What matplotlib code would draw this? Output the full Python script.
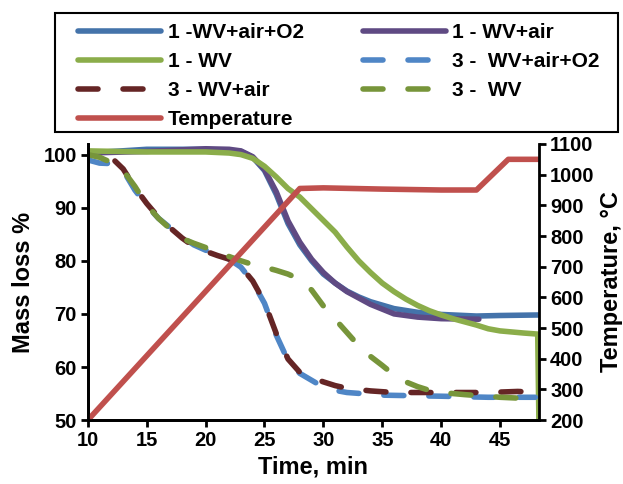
import matplotlib.pyplot as plt
from matplotlib.patches import Rectangle
import numpy as np

plt.rcParams['font.family'] = ['Liberation Sans', 'DejaVu Sans']
plt.rcParams['font.weight'] = 'bold'

# --- data ---
t_b1 = [10, 15, 20, 23, 24, 25, 26, 27, 28, 29, 30, 31, 32, 33, 34, 36, 38, 40, 43, 45, 48.3]
m_b1 = [100.3, 101.0, 101.0, 100.6, 99.5, 97.0, 92.5, 87.0, 83.0, 80.0, 77.5, 75.8, 74.3, 73.2, 72.3,
        71.0, 70.3, 69.9, 69.6, 69.7, 69.8]

t_p1 = [10, 15, 20, 22, 23, 24, 25, 26, 27, 28, 29, 30, 31, 32, 33, 34, 36, 38, 40, 43.2]
m_p1 = [100.3, 100.6, 101.1, 101.0, 100.7, 99.6, 97.2, 93.0, 87.5, 83.5, 80.3, 77.8, 75.8, 74.2, 73.0,
        71.8, 70.0, 69.4, 69.1, 69.0]

t_g1 = [10, 15, 20, 22, 23, 24, 25, 26, 27, 28, 29, 30, 31, 32, 33, 34, 35, 36, 37, 38, 39, 40,
        41, 42, 43, 44, 45, 46, 47, 48.2, 48.3]
m_g1 = [100.7, 100.5, 100.5, 100.3, 100.0, 99.3, 97.8, 95.8, 93.6, 92.0, 89.8, 87.6, 85.4, 82.6, 80.0,
        77.8, 75.8, 74.2, 72.8, 71.6, 70.6, 69.8, 69.1, 68.5, 67.9, 67.2, 66.8, 66.6, 66.4, 66.2, 50.0]

t_b3 = [10, 11, 12, 13, 14, 15, 16, 17, 18, 19, 20, 21, 22, 23, 24, 25, 26, 27, 28, 29, 30, 31, 32,
        35, 40, 44, 48]
m_b3 = [99.0, 98.4, 98.3, 97.0, 93.3, 90.4, 88.0, 86.2, 84.5, 83.0, 82.0, 81.2, 80.3, 78.8, 76.0,
        72.0, 66.0, 61.2, 58.8, 57.5, 56.2, 55.6, 55.2, 54.7, 54.5, 54.3, 54.3]

t_r3 = [12.3, 13, 14, 15, 16, 17, 18, 19, 20, 21, 22, 23, 24, 25, 26, 27, 28, 29, 30, 31, 32, 34,
        36, 40, 44, 46.5, 47.6]
m_r3 = [98.8, 97.3, 93.8, 90.8, 88.2, 86.2, 84.3, 82.7, 81.8, 81.0, 80.3, 78.9, 76.2, 72.2, 66.3,
        61.5, 59.0, 58.0, 57.2, 56.5, 56.0, 55.5, 55.2, 55.2, 55.2, 55.4, 55.3]

t_g3 = [10, 11, 12, 13, 14, 15, 16, 17, 18, 19, 20, 21, 22, 23, 24, 25, 26, 27, 28, 29, 30, 31, 32,
        33, 34, 35, 36, 37, 38, 39, 40, 42, 45, 48]
m_g3 = [100.0, 99.5, 98.5, 97.0, 94.0, 90.5, 88.0, 86.0, 84.2, 83.3, 82.5, 81.6, 80.8, 80.0, 79.3,
        78.8, 78.2, 77.5, 76.5, 74.5, 71.5, 69.0, 66.5, 64.0, 62.0, 60.3, 58.5, 57.2, 56.3, 55.6,
        55.2, 54.8, 54.3, 54.0]

t_temp = [10, 28, 30, 35, 40, 43, 45.7, 48.3]
temp = [200, 955, 957, 953, 950, 950, 1050, 1050]

fig, ax = plt.subplots(figsize=(6.23, 4.84), dpi=100)
fig.subplots_adjust(left=0.141, right=0.865, top=0.7025, bottom=0.132)

lw = 4
dash = (3.6, 4.5)
kw = dict(lw=lw, solid_capstyle='round', dash_capstyle='round', solid_joinstyle='round')

l1, = ax.plot(t_b1, m_b1, color='#4473aa', label='1 -WV+air+O2', **kw)
l2, = ax.plot(t_p1, m_p1, color='#5f4a83', label='1 - WV+air', **kw)
l3, = ax.plot(t_g1, m_g1, color='#8bad4a', label='1 - WV', **kw)
l4, = ax.plot(t_b3, m_b3, color='#4f86c6', ls=(0, dash), label='3 -  WV+air+O2', **kw)
l5, = ax.plot(t_r3, m_r3, color='#652525', ls=(0, dash), label='3 - WV+air', **kw)
l6, = ax.plot(t_g3, m_g3, color='#77953a', ls=(0, dash), label='3 -  WV', **kw)

ax2 = ax.twinx()
l7, = ax2.plot(t_temp, temp, color='#c0504d', label='Temperature', **kw)

ax.set_xlim(10, 48.3)
ax.set_ylim(50, 102)
ax2.set_ylim(200, 1100)
ax.set_xticks(np.arange(10, 46, 5))
ax.set_yticks(np.arange(50, 101, 10))
ax2.set_yticks(np.arange(200, 1101, 100))

for a in (ax, ax2):
    a.spines['top'].set_visible(False)
    for s in a.spines.values():
        s.set_linewidth(2)
    a.tick_params(width=2, length=5, labelsize=14.5, pad=3)
ax.spines['right'].set_visible(False)

ax.set_xlabel('Time, min', fontsize=17, fontweight='bold', labelpad=4)
ax.set_ylabel('Mass loss %', fontsize=17, fontweight='bold', labelpad=6)
ax2.set_ylabel('Temperature, °C', fontsize=17, fontweight='bold', rotation=90, labelpad=4)

# legend box drawn separately so the side padding can be wider than the top one
W, H = 623, 484
fig.patches.append(Rectangle((55 / W, 1 - 132 / H), 563 / W, 119 / H, transform=fig.transFigure,
                             fill=False, edgecolor='black', lw=1.5))
handles = [l1, l3, l5, l7, l2, l4, l6]
leg = fig.legend(handles=handles, labels=[h.get_label() for h in handles], ncol=2,
                 loc='upper left', bbox_to_anchor=(78 / W, 1 - 133 / H, 522 / W, 110 / H),
                 mode='expand', fontsize=15, frameon=False, handlelength=4.0,
                 handletextpad=0.3, labelspacing=0.48, borderpad=0, borderaxespad=0)

fig.savefig('out.png', dpi=100)
